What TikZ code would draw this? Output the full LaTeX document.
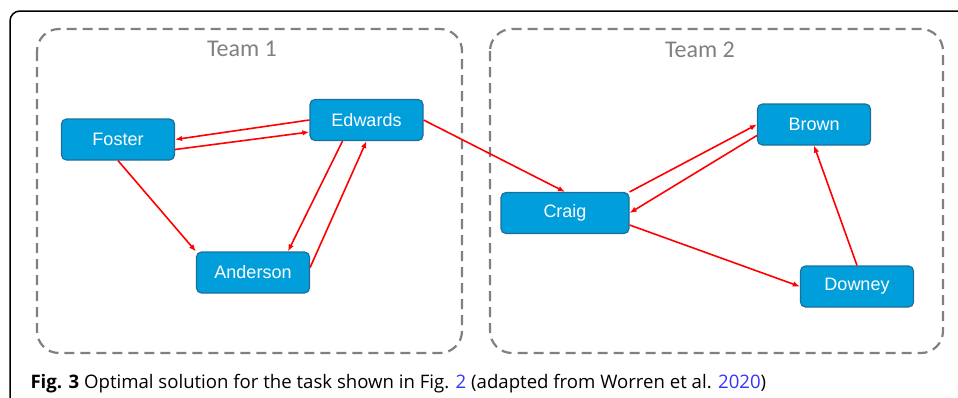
\documentclass[tikz,border=0pt]{standalone}
\usepackage{fontspec}
\setmainfont{Liberation Sans}
\newfontfamily\teamfont{Carlito}
\newfontfamily\capfont{Open Sans}
\usetikzlibrary{arrows.meta}
\definecolor{boxblue}{HTML}{009FDB}
\definecolor{boxedge}{HTML}{1D6E9C}
\definecolor{linkblue}{HTML}{3333FF}

\begin{document}
\begin{tikzpicture}[x=1pt,y=-1pt,
    person/.style={draw=boxedge,fill=boxblue,line width=1.2pt,rounded corners=5pt,
        minimum width=113pt,minimum height=41pt,text=white,font=\fontsize{18}{21}\selectfont},
    link/.style={red,line width=1.6pt,-{Latex[length=7pt,width=5.5pt]}},
    team/.style={draw=gray,line width=2.2pt,dash pattern=on 10pt off 6pt,rounded corners=22pt},
    teamname/.style={text=gray,font=\teamfont\fontsize{24}{27}\selectfont}]
    \useasboundingbox (0,0) rectangle (958,397);
    \draw[line width=1.5pt,rounded corners=10pt] (10,398) -- (10,11) -- (959,11);
    \draw[team] (37,29) rectangle (462,353);
    \draw[team] (490,29) rectangle (943,353);
    \node[teamname] (team1) at (242,49) {Team 1};
    \node[teamname] (team2) at (700,50) {Team 2};
    \node[person] (Foster) at (118,139.5) {Foster};
    \node[person] (Edwards) at (366.5,120) {Edwards};
    \node[person] (Anderson) at (253,272.5) {Anderson};
    \node[person,minimum width=128pt] (Craig) at (565,213) {Craig};
    \node[person] (Brown) at (814,124.5) {Brown};
    \node[person] (Downey) at (857,286.5) {Downey};
    \draw[link] (Edwards.west) -- (Foster.east);
    \draw[link] ([yshift=-10pt]Foster.east) -- ([yshift=-12pt]Edwards.west);
    \draw[link] (Foster.south) -- (Anderson.north west);
    \draw[link] ([xshift=-24pt]Edwards.south) -- ([xshift=35pt]Anderson.north);
    \draw[link] ([yshift=5pt]Anderson.east) -- (Edwards.south);
    \draw[link] (Edwards.east) -- (Craig.north);
    \draw[link] (Craig.north east) -- (Brown.west);
    \draw[link] ([yshift=-11pt]Brown.west) -- (Craig.east);
    \draw[link] ([yshift=-12pt]Craig.east) -- (Downey.west);
    \draw[link] (Downey.north) -- (Brown.south);
    \node[anchor=base west,font=\capfont\fontsize{18.6}{21}\selectfont] (caption) at (27,388)
        {\textbf{Fig. 3} Optimal solution for the task shown in Fig. \textcolor{linkblue}{2} (adapted from Worren et al. \textcolor{linkblue}{2020})};
\end{tikzpicture}
\end{document}
